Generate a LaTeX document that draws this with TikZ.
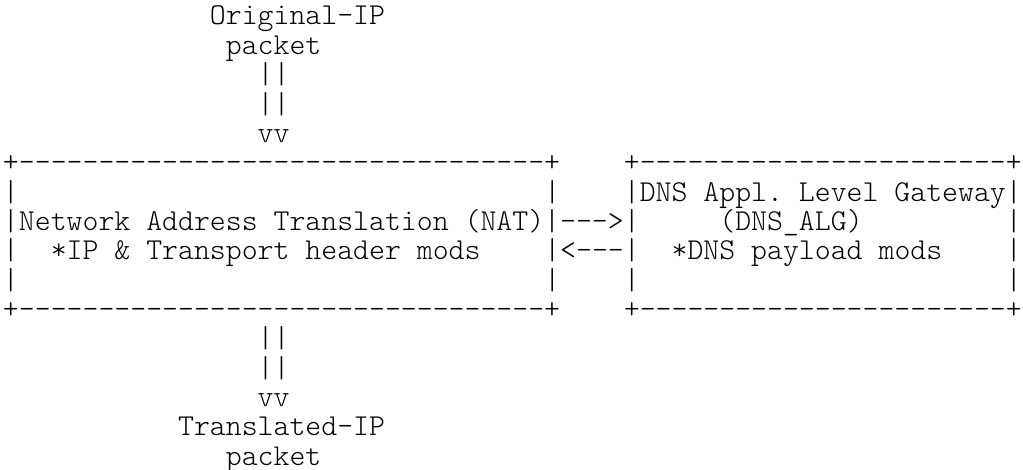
\documentclass[tikz,border=0pt]{standalone}
\usepackage{fontspec}
\setmonofont{Latin Modern Mono Light}

\begin{document}
\begin{tikzpicture}[x=7.96pt, y=-14.667pt,
	ascii/.style = { inner sep=0pt, outer sep=0pt, anchor=base west,
			font=\fontsize{15.16}{16}\selectfont\ttfamily\frenchspacing }]

  \useasboundingbox (-0.1884,-0.852) rectangle (64.07,15.17);

  % packet coming in
  \node[name=origip, ascii] at (13,0) {Original-IP};
  \node[name=origpkt, ascii] at (14,1) {packet};
  \node[name=inbar1, ascii] at (16,2) {||};
  \node[name=inbar2, ascii] at (16,3) {||};
  \node[name=inhead, ascii] at (16,4) {vv};

  % the two boxes
  \node[name=nattop, ascii] at (0,5) {+---------------------------------+};
  \node[name=algtop, ascii] at (39,5) {+-----------------------+};

  \node[name=natl1, ascii] at (0,6) {|};
  \node[name=natr1, ascii] at (34,6) {|};
  \node[name=alg, ascii] at (39,6) {|DNS Appl.\ Level Gateway|};

  \node[name=nat, ascii] at (0,7) {|Network Address Translation (NAT)|--->|};
  \node[name=algname, ascii] at (45,7) {(DNS\_ALG)};
  \node[name=algr2, ascii] at (63,7) {|};

  \node[name=natl3, ascii] at (0,8) {|};
  \node[name=natmods, ascii] at (3,8) {*IP \& Transport header mods};
  \node[name=back, ascii] at (34,8) {|<---|};
  \node[name=algmods, ascii] at (42,8) {*DNS payload mods};
  \node[name=algr3, ascii] at (63,8) {|};

  \node[name=natl4, ascii] at (0,9) {|};
  \node[name=natr4, ascii] at (34,9) {|};
  \node[name=algl4, ascii] at (39,9) {|};
  \node[name=algr4, ascii] at (63,9) {|};

  \node[name=natbot, ascii] at (0,10) {+---------------------------------+};
  \node[name=algbot, ascii] at (39,10) {+-----------------------+};

  % packet going out
  \node[name=outbar1, ascii] at (16,11) {||};
  \node[name=outbar2, ascii] at (16,12) {||};
  \node[name=outhead, ascii] at (16,13) {vv};
  \node[name=transip, ascii] at (11,14) {Translated-IP};
  \node[name=transpkt, ascii] at (14,15) {packet};
\end{tikzpicture}
\end{document}
